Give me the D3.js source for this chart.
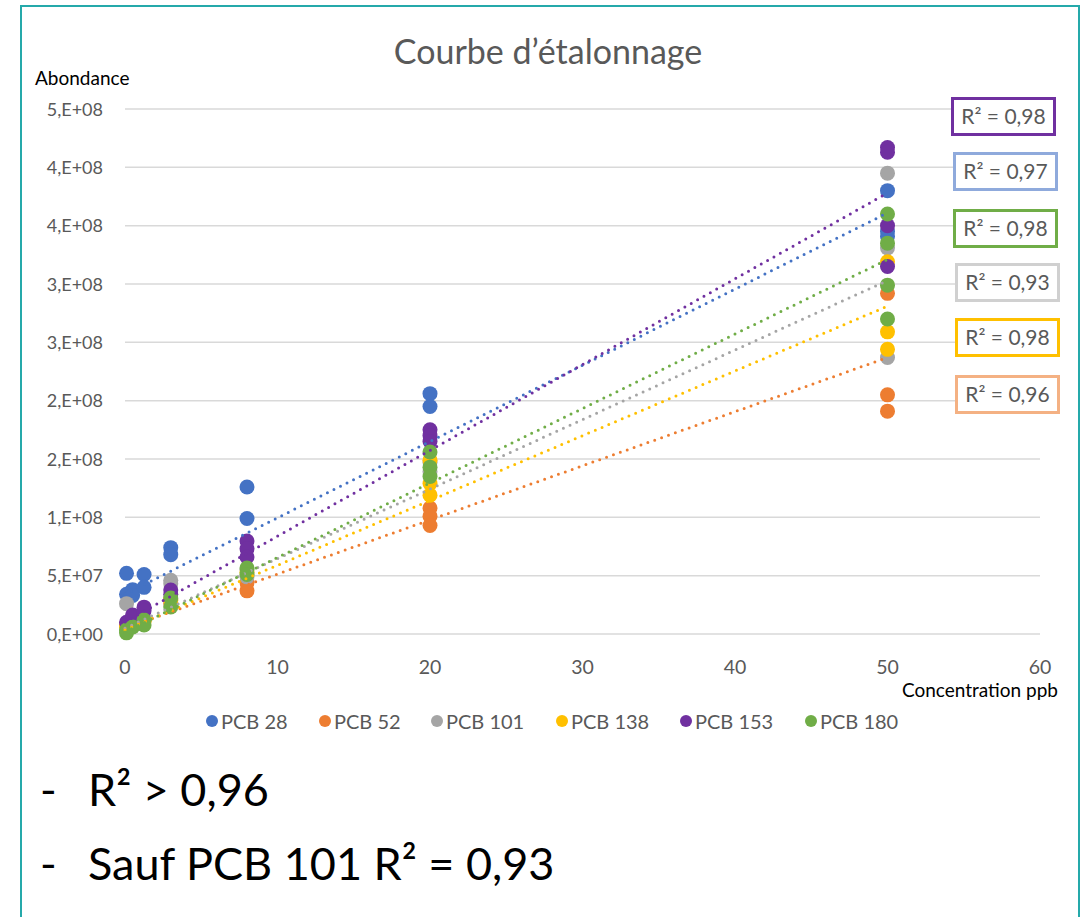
<!DOCTYPE html>
<html><head><meta charset="utf-8">
<script src="https://cdn.jsdelivr.net/npm/d3@7"></script>
<style>
html,body{margin:0;padding:0;background:#fff;}
svg{display:block;font-family:Lato,"Open Sans",sans-serif;}
</style></head>
<body>
<svg id="chart" width="1089" height="917"></svg>
<script>
// ---------- DATA ----------
const seriesNames = ["PCB 28", "PCB 52", "PCB 101", "PCB 138", "PCB 153", "PCB 180"];
const seriesColors = ["#4472C4", "#ED7D31", "#A5A5A5", "#FFC000", "#7030A0", "#70AD47"];
const boxColors = ["#8FAADC", "#F4B183", "#D0D0D0", "#FFC000", "#7030A0", "#70AD47"];
const r2Labels = ["0,97", "0,96", "0,93", "0,98", "0,98", "0,98"];

// [concentration ppb, abondance]
const pcb28 = [[0.1,5.2e7],[0.1,3.4e7],[0.5,3.8e7],[0.5,3.3e7],[1.25,5.1e7],[1.25,4.0e7],[3,7.4e7],[3,6.8e7],[8,1.26e8],[8,9.9e7],[20,2.06e8],[20,1.95e8],[50,3.8e8],[50,3.45e8],[50,3.41e8]];
const pcb52 = [[0.1,8e6],[0.5,1.0e7],[1.25,1.2e7],[3,3.0e7],[3,2.6e7],[8,4.4e7],[8,3.7e7],[20,1.08e8],[20,1.01e8],[20,9.3e7],[50,2.92e8],[50,2.05e8],[50,1.91e8]];
const pcb101 = [[0.1,2.6e7],[0.5,1.5e7],[1.25,1.3e7],[3,4.6e7],[3,4.3e7],[8,5.5e7],[8,4.9e7],[20,1.47e8],[20,1.39e8],[50,3.95e8],[50,3.31e8],[50,2.37e8]];
const pcb138 = [[0.1,6e6],[0.5,9e6],[1.25,1.1e7],[3,2.9e7],[8,5.3e7],[20,1.49e8],[20,1.29e8],[20,1.19e8],[50,3.19e8],[50,2.59e8],[50,2.44e8]];
const pcb153 = [[0.1,1.0e7],[0.5,1.63e7],[1.25,2.3e7],[1.25,2.0e7],[3,3.77e7],[3,3.4e7],[8,7.97e7],[8,7.3e7],[8,6.6e7],[20,1.75e8],[20,1.70e8],[20,1.65e8],[50,4.17e8],[50,4.13e8],[50,3.50e8],[50,3.15e8]];
const pcb180 = [[0.1,3.4e6],[0.1,1e6],[0.5,6e6],[1.25,1.2e7],[1.25,7.7e6],[3,3.09e7],[3,2.31e7],[8,5.66e7],[8,5.1e7],[20,1.56e8],[20,1.43e8],[20,1.35e8],[50,3.6e8],[50,3.35e8],[50,2.99e8],[50,2.7e8]];
const seriesData = [pcb28, pcb52, pcb101, pcb138, pcb153, pcb180];

// linear trendline values read at x=0 and x=50
const trendAt0  = [3.43e7, 5e6, 5e6, 3.4e6, 1.03e7, 1.7e6];
const trendAt50 = [3.61e8, 2.37e8, 3.03e8, 2.81e8, 3.78e8, 3.21e8];

const xTicks = [0, 10, 20, 30, 40, 50, 60];
const yTicks = [0, 5e7, 1e8, 1.5e8, 2e8, 2.5e8, 3e8, 3.5e8, 4e8, 4.5e8];
const yTickLabels = ["0,E+00","5,E+07","1,E+08","2,E+08","2,E+08","3,E+08","3,E+08","4,E+08","4,E+08","5,E+08"];

// ---------- LAYOUT ----------
const svg = d3.select("#chart");
const x = d3.scaleLinear().domain([0, 60]).range([125, 1040]);
const y = d3.scaleLinear().domain([0, 4.5e8]).range([634, 109]);
const grey = "#595959";

// frame
svg.append("path").attr("d","M21,917 L21,6 L1079,6 L1079,917")
  .attr("fill","none").attr("stroke","#25A9AA").attr("stroke-width",2);

// gridlines
svg.append("g").selectAll("line").data(yTicks).join("line")
  .attr("x1", x(0)).attr("x2", x(60))
  .attr("y1", d => y(d)).attr("y2", d => y(d))
  .attr("stroke", "#D9D9D9").attr("stroke-width", 1.5);

// y tick labels
svg.append("g").selectAll("text").data(yTicks).join("text")
  .attr("x", 103).attr("y", d => y(d) + 6.5)
  .attr("text-anchor","end").attr("fill", grey).attr("font-size", 18)
  .text((d,i) => yTickLabels[i]);

// x tick labels
svg.append("g").selectAll("text").data(xTicks).join("text")
  .attr("x", d => x(d)).attr("y", 674)
  .attr("text-anchor","middle").attr("fill", grey).attr("font-size", 19.5)
  .text(d => d);

// title & axis titles
svg.append("text").attr("x", 548).attr("y", 64).attr("text-anchor","middle")
  .attr("fill", grey).attr("font-size", 34).text("Courbe d’étalonnage");
svg.append("text").attr("x", 35).attr("y", 85).attr("fill","#000").attr("font-size",19).text("Abondance");
svg.append("text").attr("x", 1058).attr("y", 697).attr("text-anchor","end")
  .attr("fill","#000").attr("font-size",19).text("Concentration ppb");

// markers
seriesData.forEach((data, i) => {
  svg.append("g").selectAll("circle").data(data).join("circle")
    .attr("cx", d => x(d[0])).attr("cy", d => y(d[1])).attr("r", 7.5)
    .attr("fill", seriesColors[i]);
});

// trendlines (dotted)
seriesNames.forEach((n, i) => {
  svg.append("line")
    .attr("x1", x(0)).attr("y1", y(trendAt0[i]))
    .attr("x2", x(50)).attr("y2", y(trendAt50[i]))
    .attr("stroke", seriesColors[i]).attr("stroke-width", 3)
    .attr("stroke-linecap","round").attr("stroke-dasharray","0 7.3");
});

// R² boxes, stacked in order of trend value at 50
const boxTops = [97, 152, 209, 263, 318, 375];
const boxLefts = [951, 953, 953, 955, 955, 955];
const order = d3.range(6).sort((a,b) => trendAt50[b] - trendAt50[a]);
order.forEach((si, k) => {
  const g = svg.append("g").attr("transform", `translate(${boxLefts[k]},${boxTops[k]})`);
  g.append("rect").attr("x",1.5).attr("y",1.5).attr("width",102).attr("height",36)
    .attr("fill","#fff").attr("stroke", boxColors[si]).attr("stroke-width",3);
  g.append("text").attr("x", 52.5).attr("y", 27).attr("text-anchor","middle")
    .attr("fill", grey).attr("font-size", 21).text("R² = " + r2Labels[si]);
});

// legend
const legendX = [212, 325, 437, 562, 686, 811];
seriesNames.forEach((n, i) => {
  svg.append("circle").attr("cx", legendX[i]).attr("cy", 721).attr("r", 6).attr("fill", seriesColors[i]);
  svg.append("text").attr("x", legendX[i] + 9).attr("y", 728.5).attr("fill", grey)
    .attr("font-size", 20).text(n);
});

// bottom notes
svg.append("text").attr("x", 40).attr("y", 806).attr("font-size", 45).attr("fill","#000").text("-");
svg.append("text").attr("x", 88).attr("y", 806).attr("font-size", 45).attr("fill","#000").text("R² > 0,96");
svg.append("text").attr("x", 40).attr("y", 880).attr("font-size", 45).attr("fill","#000").text("-");
svg.append("text").attr("x", 88).attr("y", 880).attr("font-size", 45).attr("fill","#000").text("Sauf PCB 101 R² = 0,93");
</script>
</body></html>
